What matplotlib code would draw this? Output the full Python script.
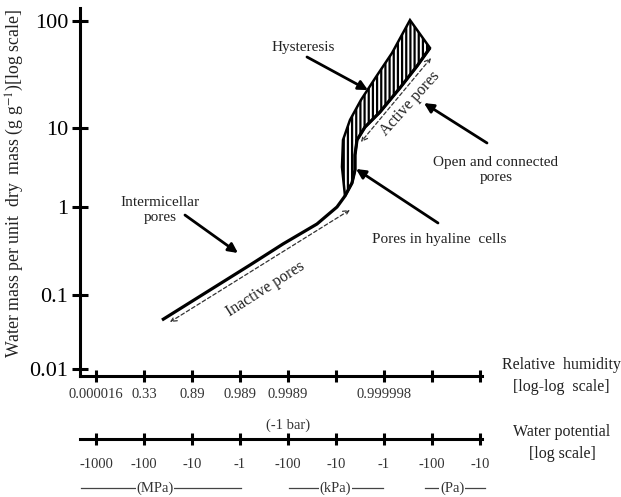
import numpy as np
import matplotlib
matplotlib.use('Agg')
import matplotlib.pyplot as plt
from matplotlib.transforms import blended_transform_factory

plt.rcParams['font.family'] = ['Liberation Serif', 'DejaVu Serif']
plt.rcParams['mathtext.fontset'] = 'stix'
plt.rcParams['hatch.linewidth'] = 1.6

# tick labels of the two bottom scales (one tick per position 0..8)
rh_labels = ['0.000016', '0.33', '0.89', '0.989', '0.9989', '', '0.999998', '', '']
wp_labels = ['-1000', '-100', '-10', '-1', '-100', '-10', '-1', '-100', '-10']
y_ticks = [0.01, 0.1, 1, 10, 100]
y_ticklabels = ['0.01', '0.1', '1', '10', '100']

# main sorption curve (x = position on humidity scale, y = g/g)
curve_x = [1.375, 3.208, 3.896, 4.604, 5.021, 5.188, 5.333, 5.396, 5.396, 5.438,
           5.604, 5.917, 6.333, 6.688, 6.958]
curve_y = [0.0459, 0.219, 0.380, 0.641, 1.0, 1.38, 2.01, 2.94, 4.55, 7.05,
           10.2, 14.1, 23.7, 37.9, 56.0]

# upper branch closing the hysteresis area
upper_x = [5.188, 5.125, 5.146, 5.292, 5.521, 5.833, 6.167, 6.542]
upper_y = [1.38, 3.21, 7.05, 11.9, 18.3, 30.0, 50.2, 102]

# the original schematic has uneven decades on the y axis
knots_log = [-3, -2, -1, 0, 1, 2, 3]
knots_px = [-74, 0, 74, 162, 241, 348, 455]


def fwd(y):
    return np.interp(np.log10(np.maximum(y, 1e-30)), knots_log, knots_px)


def inv(h):
    return 10 ** np.interp(h, knots_px, knots_log)


fig = plt.figure(figsize=(6.21, 4.97), dpi=100)
ax = fig.add_axes([80 / 621, 121 / 497, 402 / 621, 368 / 497])
ax.set_yscale('function', functions=(fwd, inv))
ax.set_xlim(-0.333, 8.042)
ax.set_ylim(0.00804, 132.3)

for s in ['top', 'right']:
    ax.spines[s].set_visible(False)
for s in ['left', 'bottom']:
    ax.spines[s].set_linewidth(2.2)

ax.set_yticks(y_ticks)
ax.set_yticklabels(y_ticklabels, fontsize=16)
ax.yaxis.set_minor_locator(matplotlib.ticker.NullLocator())
ax.set_xticks(range(9))
ax.set_xticklabels(rh_labels, fontsize=10.5, color='#333333')
ax.tick_params(axis='y', direction='inout', width=2.2, length=11, pad=3)
ax.tick_params(axis='x', direction='inout', width=2.2, length=9, pad=4)

# hysteresis area
poly_x = upper_x + curve_x[5:][::-1]
poly_y = upper_y + curve_y[5:][::-1]
ax.fill(poly_x, poly_y, facecolor='white', edgecolor='black', hatch='||||', lw=1.8)
ax.plot(curve_x, curve_y, color='black', lw=2.3, solid_capstyle='butt')

# dashed double arrows
dash = dict(arrowstyle='<->', linestyle=(0, (3, 2)), lw=0.9, color='#333333',
            mutation_scale=10, shrinkA=0, shrinkB=0)
ax.annotate('', xy=(1.54, 0.0431), xytext=(5.29, 0.925), arrowprops=dash)
ax.annotate('', xy=(5.52, 6.65), xytext=(6.98, 45.1), arrowprops=dash)
ax.text(3.54, 0.117, 'Inactive pores', rotation=32.5, rotation_mode='anchor',
        ha='center', va='center', fontsize=11.5, color='#222222')
ax.text(6.54, 17.1, 'Active pores', rotation=48, rotation_mode='anchor',
        ha='center', va='center', fontsize=11.5, color='#222222')

# labelled arrows
solid = dict(arrowstyle='-|>', lw=2, color='black', mutation_scale=14,
             shrinkA=0, shrinkB=0)
ax.annotate('', xy=(5.667, 22.6), xytext=(4.396, 46.1), arrowprops=solid)
ax.annotate('', xy=(2.958, 0.30), xytext=(1.854, 0.81), arrowprops=solid)
ax.annotate('', xy=(6.833, 17.1), xytext=(8.146, 6.46), arrowprops=solid)
ax.annotate('', xy=(5.417, 3.03), xytext=(7.125, 0.658), arrowprops=solid)

txt = dict(ha='center', va='center', fontsize=11, color='#222222',
           multialignment='center', linespacing=1.25)
ax.text(4.31, 57.1, 'Hysteresis', **txt)
ax.text(1.33, 0.92, 'Intermicellar\npores', **txt)
ax.text(8.33, 2.94, 'Open and connected\npores', **txt)
ax.text(7.146, 0.43, 'Pores in hyaline  cells', **txt)

fig.text(15 / 621, 0.63, 'Water mass per unit  dry  mass (g g$^{-1}$)[log scale]',
         rotation=90, ha='center', va='center', fontsize=12.8, color='#222222')

# water potential scale
ax2 = fig.add_axes([80 / 621, 58 / 497, 402 / 621, 0.002])
ax2.set_xlim(-0.333, 8.042)
ax2.patch.set_visible(False)
for s in ['top', 'right', 'left']:
    ax2.spines[s].set_visible(False)
ax2.spines['bottom'].set_linewidth(2.2)
ax2.set_yticks([])
ax2.set_xticks(range(9))
ax2.set_xticklabels(wp_labels, fontsize=10.5, color='#333333')
ax2.tick_params(axis='x', direction='inout', width=2.2, length=9, pad=9)

blend = blended_transform_factory(ax2.transData, fig.transFigure)
ax2.text(4, (497 - 425) / 497, '(-1 bar)', transform=blend, ha='center',
         va='center', fontsize=10.5, color='#333333')
units = [('(MPa)', -0.31, 3.02, 1.23), ('(kPa)', 4.02, 5.98, 4.98), ('(Pa)', 6.85, 8.1, 7.42)]
uy = (497 - 488) / 497
for name, x0, x1, xc in units:
    ax2.plot([x0, x1], [uy, uy], transform=blend, clip_on=False, color='#444444', lw=0.9)
    ax2.text(xc, uy, name, transform=blend, ha='center', va='center', fontsize=10.5,
             color='#333333', bbox=dict(facecolor='white', edgecolor='none', pad=0.5))

# right side scale names
side = dict(ha='center', va='center', fontsize=11.5, color='#222222')
fig.text(561 / 621, (497 - 365) / 497, 'Relative  humidity', **side)
fig.text(561 / 621, (497 - 387) / 497, '[log-log  scale]', **side)
fig.text(562 / 621, (497 - 432) / 497, 'Water potential', **side)
fig.text(562 / 621, (497 - 454) / 497, '[log scale]', **side)

fig.savefig('out.png', dpi=100)
